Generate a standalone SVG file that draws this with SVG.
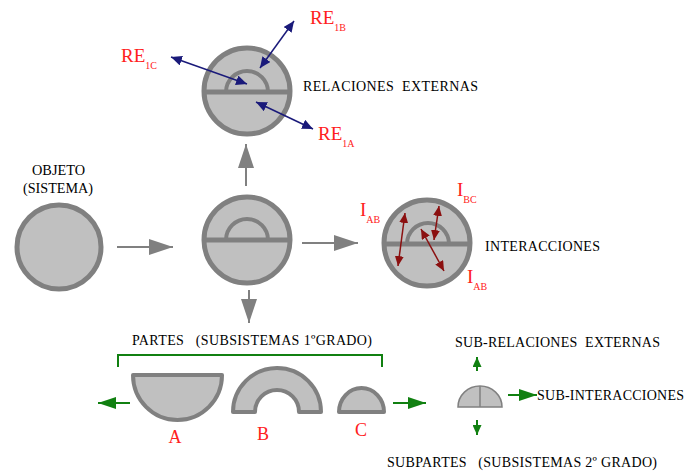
<svg xmlns="http://www.w3.org/2000/svg" width="685" height="471" viewBox="0 0 685 471">
<style>
.body{fill:#c0c0c0;stroke:#808080;stroke-width:5}
.part{fill:#c0c0c0;stroke:#808080;stroke-width:4;stroke-linejoin:round}
.ln{fill:none;stroke:#808080;stroke-width:5}
.arc{fill:none;stroke:#808080;stroke-width:4}
.t{font-family:"Liberation Serif",serif;font-size:14px;fill:#000;white-space:pre}
.r{font-family:"Liberation Serif",serif;fill:#ff2020}
.ga{stroke:#808080;stroke-width:2;fill:none}
.na{stroke:#1a1a7a;stroke-width:1.5;fill:none}
.da{stroke:#8b1010;stroke-width:1.5;fill:none}
.gr{stroke:#118011;stroke-width:2;fill:none}
</style>
<defs>
<marker id="mg" markerUnits="userSpaceOnUse" markerWidth="24" markerHeight="16" refX="24" refY="8" orient="auto"><path d="M0,0L24,8L0,16Z" fill="#808080"/></marker>
<marker id="mn" markerUnits="userSpaceOnUse" markerWidth="11" markerHeight="10" refX="11" refY="5" orient="auto-start-reverse"><path d="M0,0L11,5L0,10Z" fill="#1a1a7a"/></marker>
<marker id="md" markerUnits="userSpaceOnUse" markerWidth="10" markerHeight="9" refX="10" refY="4.5" orient="auto-start-reverse"><path d="M0,0L10,4.5L0,9Z" fill="#8b1010"/></marker>
<marker id="mG" markerUnits="userSpaceOnUse" markerWidth="18" markerHeight="12" refX="18" refY="6" orient="auto"><path d="M0,0L18,6L0,12Z" fill="#118011"/></marker>
<marker id="mGs" markerUnits="userSpaceOnUse" markerWidth="10" markerHeight="9" refX="10" refY="4.5" orient="auto"><path d="M0,0L10,4.5L0,9Z" fill="#118011"/></marker>
</defs>

<g id="objeto">
<circle class="body" cx="59" cy="247" r="42"/>
<text class="t" x="32" y="175" textLength="53" lengthAdjust="spacingAndGlyphs">OBJETO</text>
<text class="t" x="23" y="193" textLength="70" lengthAdjust="spacingAndGlyphs">(SISTEMA)</text>
</g>

<g id="sistema">
<circle class="body" cx="247" cy="240" r="43"/>
<line class="ln" x1="204" y1="240" x2="290" y2="240"/>
<path class="arc" d="M226 240A21 21 0 0 1 268 240"/>
</g>

<g id="relaciones">
<circle class="body" cx="247" cy="91" r="43"/>
<line class="ln" x1="204" y1="92" x2="290" y2="92"/>
<path class="arc" d="M226 92A21 21 0 0 1 268 92"/>
<text class="t" x="303" y="91" textLength="175" lengthAdjust="spacing">RELACIONES  EXTERNAS</text>
</g>

<g id="interacciones">
<circle class="body" cx="427" cy="243" r="43"/>
<line class="ln" x1="384" y1="244" x2="470" y2="244"/>
<path class="arc" d="M407 244A21 21 0 0 1 449 244"/>
<text class="t" x="485" y="251" textLength="115" lengthAdjust="spacing">INTERACCIONES</text>
</g>

<g id="labels-re">
<text class="r" x="310" y="24" font-size="19">RE<tspan font-size="10" dy="7">1B</tspan></text>
<text class="r" x="121" y="62" font-size="19">RE<tspan font-size="10" dy="7">1C</tspan></text>
<text class="r" x="318" y="140" font-size="19">RE<tspan font-size="10" dy="7">1A</tspan></text>
<text class="r" x="360" y="216" font-size="19">I<tspan font-size="10" dy="7">AB</tspan></text>
<text class="r" x="457" y="196" font-size="19">I<tspan font-size="10" dy="7">BC</tspan></text>
<text class="r" x="467" y="283" font-size="19">I<tspan font-size="10" dy="7">AB</tspan></text>
</g>

<g id="partes-title">
<text class="t" x="132" y="345" textLength="240" lengthAdjust="spacing">PARTES   (SUBSISTEMAS 1ºGRADO)</text>
</g>

<g id="parte-a">
<path class="part" d="M133 375H222A44.5 45 0 0 1 133 375Z"/>
<text class="r" x="175" y="443" font-size="18" text-anchor="middle">A</text>
</g>
<g id="parte-b">
<path class="part" d="M233 412A44 44 0 0 1 321 412H299A22 22 0 0 0 255 412Z"/>
<text class="r" x="263" y="440" font-size="18" text-anchor="middle">B</text>
</g>
<g id="parte-c">
<path class="part" d="M339 412A22.5 24 0 0 1 384 412Z"/>
<text class="r" x="361" y="436" font-size="18" text-anchor="middle">C</text>
</g>

<g id="subparte">
<path d="M458 407A22 21 0 0 1 502 407Z" fill="#c0c0c0" stroke="#808080" stroke-width="1.5"/>
<line x1="480" y1="386" x2="480" y2="407" stroke="#808080" stroke-width="1.5"/>
</g>

<g id="sub-labels">
<text class="t" x="455" y="347" textLength="205" lengthAdjust="spacing">SUB-RELACIONES  EXTERNAS</text>
<text class="t" x="537" y="400" textLength="147" lengthAdjust="spacing">SUB-INTERACCIONES</text>
<text class="t" x="387" y="467" textLength="270" lengthAdjust="spacing">SUBPARTES   (SUBSISTEMAS 2º GRADO)</text>
</g>

<g id="connectors">
<line class="ga" x1="117" y1="247" x2="173" y2="247" marker-end="url(#mg)"/>
<line class="ga" x1="302" y1="243" x2="358" y2="243" marker-end="url(#mg)"/>
<line class="ga" x1="246" y1="186" x2="246" y2="144" marker-end="url(#mg)"/>
<line class="ga" x1="249" y1="290" x2="249" y2="323" marker-end="url(#mg)"/>
<line class="na" x1="260" y1="68" x2="294" y2="21" marker-start="url(#mn)" marker-end="url(#mn)"/>
<line class="na" x1="247" y1="84" x2="171" y2="57" marker-start="url(#mn)" marker-end="url(#mn)"/>
<line class="na" x1="256" y1="102" x2="313" y2="129" marker-start="url(#mn)" marker-end="url(#mn)"/>
<line class="da" x1="405" y1="213" x2="398" y2="266" marker-start="url(#md)" marker-end="url(#md)"/>
<line class="da" x1="439" y1="206" x2="434" y2="240" marker-start="url(#md)" marker-end="url(#md)"/>
<line class="da" x1="421" y1="229" x2="444" y2="271" marker-start="url(#md)" marker-end="url(#md)"/>
<path class="gr" d="M118 367V355H382V367" stroke-width="1.5"/>
<line class="gr" x1="130" y1="403" x2="98" y2="403" marker-end="url(#mG)"/>
<line class="gr" x1="393" y1="403" x2="426" y2="403" marker-end="url(#mG)"/>
<line class="gr" x1="477" y1="371" x2="477" y2="357" marker-end="url(#mGs)"/>
<line class="gr" x1="477" y1="420" x2="477" y2="435" marker-end="url(#mGs)"/>
<line class="gr" x1="508" y1="395" x2="537" y2="395" marker-end="url(#mG)"/>
</g>
</svg>
